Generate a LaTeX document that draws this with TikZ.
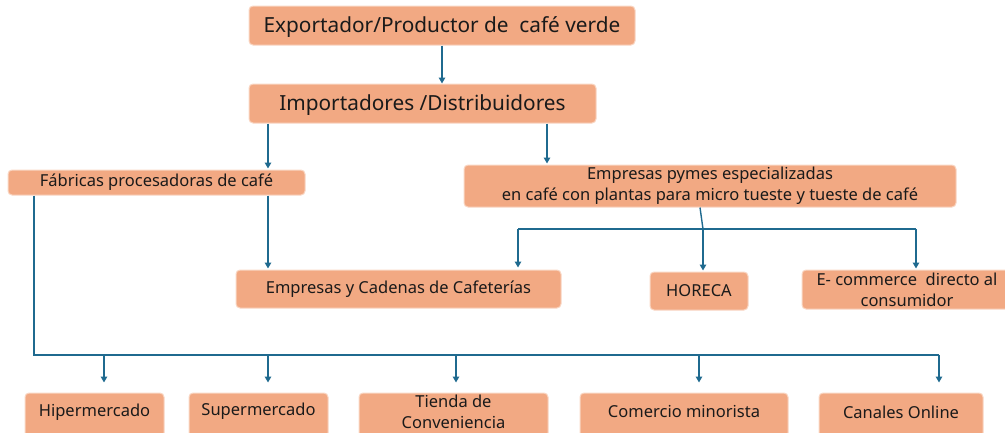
\documentclass[tikz,border=0pt]{standalone}
\usepackage{fontspec}
\setmainfont{Noto Sans}
\usetikzlibrary{arrows.meta}
\definecolor{boxfill}{HTML}{F2A983}
\definecolor{boxedge}{HTML}{F9D6C3}
\definecolor{linec}{HTML}{1F6A8F}
\definecolor{txt}{HTML}{1A1A1A}
\begin{document}
\begin{tikzpicture}[x=1pt,y=-1pt,
  box/.style={fill=boxfill,draw=boxedge,line width=1pt,rounded corners=4pt,
    inner sep=0pt,text=txt,align=center,font=\fontsize{16.5}{21}\selectfont},
  bigbox/.style={box,font=\fontsize{20.8}{24}\selectfont,text height=16.5pt,text depth=2.5pt},
  lbl/.style={text=txt,align=center,inner sep=0pt,font=\fontsize{16.5}{21}\selectfont},
  conn/.style={draw=linec,line width=1.4pt},
  arr/.style={conn,-{Triangle[width=6.5pt,length=6pt]}}]
\useasboundingbox (0,0) rectangle (1005,432);
\clip (0,0) rectangle (1005,432);
% nodes
\node[bigbox,minimum width=386pt,minimum height=39pt] (exp) at (442,25.5) {Exportador/Productor de\ \ café verde};
\node[bigbox,minimum width=347pt,minimum height=39pt] (imp) at (422.5,103.5) {Importadores /Distribuidores};
\node[box,minimum width=297pt,minimum height=25pt] (fab) at (156.5,182.5) {Fábricas procesadoras de café};
\node[box,minimum width=492pt,minimum height=42pt] (pym) at (710,186) {Empresas pymes especializadas\\en café con plantas para micro tueste y tueste de café};
\node[box,minimum width=325pt,minimum height=38pt] (cad) at (398.5,289) {Empresas y Cadenas de Cafeterías};
\node[box,minimum width=98pt,minimum height=38pt] (hor) at (699,291) {HORECA};
\node[box,minimum width=210pt,minimum height=39pt] (eco) at (907,289.5) {E- commerce\ \ directo al\\consumidor};
\node[box,minimum width=139pt,minimum height=44pt] (hip) at (94.5,415) {};
\node[lbl] (hipt) at (hip.center |- 0,412.5) {Hipermercado};
\node[box,minimum width=139pt,minimum height=44pt] (sup) at (258.5,415) {};
\node[lbl] (supt) at (sup.center |- 0,411.5) {Supermercado};
\node[box,minimum width=189pt,minimum height=44pt] (tie) at (453.5,415) {};
\node[lbl] (tiet) at (tie.center |- 0,412) {Tienda de\\Conveniencia};
\node[box,minimum width=208pt,minimum height=44pt] (com) at (684,415) {};
\node[lbl] (comt) at (com.center |- 0,411.5) {Comercio minorista};
\node[box,minimum width=164pt,minimum height=44pt] (can) at (901,415) {};
\node[lbl] (cant) at (can.center |- 0,412.5) {Canales Online};
% helper coordinates
\coordinate (xa) at (268,0);
\coordinate (xb) at (547,0);
\coordinate (xl) at (34,355);
\coordinate (xs) at (700,0);
\coordinate (j2) at (703,229);
\coordinate (b2l) at (518,229);
\coordinate (b2r) at (916,229);
% connectors
\draw[arr] (exp.south) -- (exp.south |- imp.north);
\draw[arr,shorten >=1pt] (imp.south -| xa) -- (fab.north -| xa);
\draw[arr,shorten >=1pt] (imp.south -| xb) -- (pym.north -| xb);
\draw[arr,shorten >=1pt] (fab.south -| xa) -- (cad.north -| xa);
% pymes bus
\draw[conn] (pym.south -| xs) -- (j2);
\draw[conn] (b2l) -- (b2r);
\draw[arr,shorten >=2pt] (b2l) -- (cad.north -| b2l);
\draw[arr,shorten >=1pt] (j2) -- (hor.north -| j2);
\draw[arr,shorten >=1pt] (b2r) -- (eco.north -| b2r);
% bottom bus
\draw[conn] (fab.south -| xl) -- (xl) -- (939,355);
\draw[arr,shorten >=10pt] (104,355) -- (hip.north -| 104,0);
\draw[arr,shorten >=10pt] (268,355) -- (sup.north -| 268,0);
\draw[arr,shorten >=10pt] (456,355) -- (tie.north -| 456,0);
\draw[arr,shorten >=10pt] (699,355) -- (com.north -| 699,0);
\draw[arr,shorten >=10pt] (939,355) -- (can.north -| 939,0);
\end{tikzpicture}
\end{document}
